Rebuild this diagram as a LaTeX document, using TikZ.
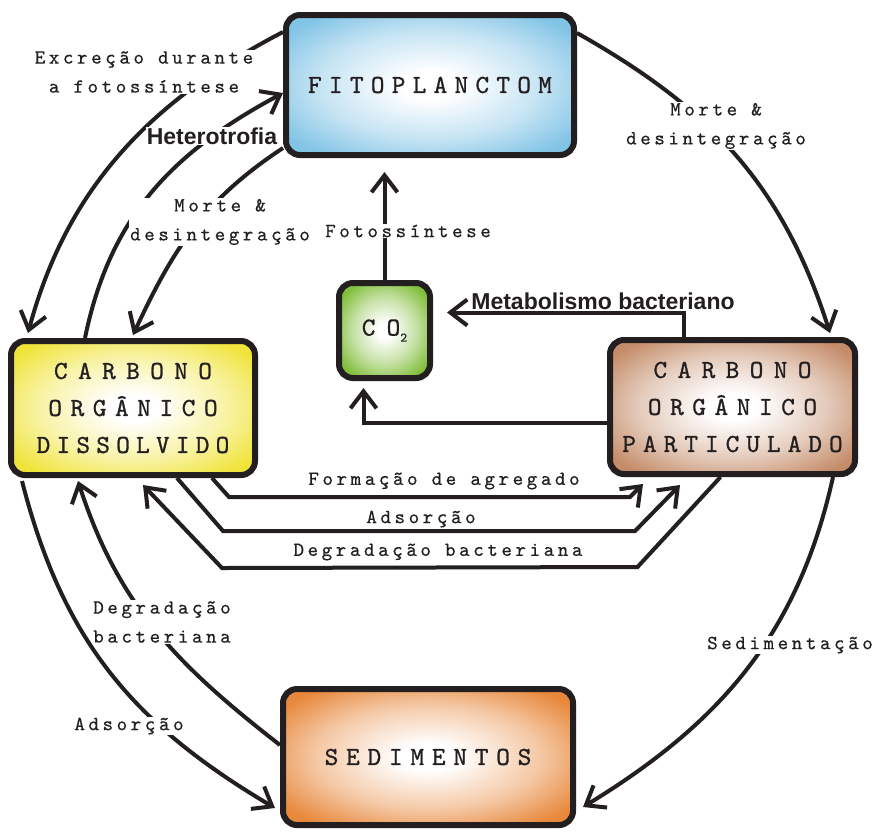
\documentclass[tikz,border=0pt]{standalone}
\usepackage{fontspec}
\usetikzlibrary{arrows.meta,calc}
\newfontfamily\lblmono{lmmono10-regular.otf}[LetterSpace=18,FakeBold=0.5]
\newfontfamily\boxmono{lmmono10-regular.otf}[LetterSpace=28,FakeBold=1]
\newfontfamily\sansbold{Liberation Sans Bold}
\definecolor{ink}{HTML}{231F20}
\definecolor{fitoC}{HTML}{82C4E6}
\definecolor{codC}{HTML}{F0E43A}
\definecolor{copC}{HTML}{C48C69}
\definecolor{coC}{HTML}{82BE3C}
\definecolor{sedC}{HTML}{E8883C}
\colorlet{fitoM}{fitoC!45!white}
\colorlet{codM}{codC!45!white}
\colorlet{copM}{copC!45!white}
\colorlet{coM}{coC!45!white}
\colorlet{sedM}{sedC!45!white}
\pgfdeclareradialshading{fitoshade}{\pgfpointorigin}{color(0bp)=(white); color(5bp)=(white); color(19bp)=(fitoM); color(31bp)=(fitoC); color(50bp)=(fitoC)}
\pgfdeclareradialshading{codshade}{\pgfpointorigin}{color(0bp)=(white); color(5bp)=(white); color(19bp)=(codM); color(31bp)=(codC); color(50bp)=(codC)}
\pgfdeclareradialshading{copshade}{\pgfpointorigin}{color(0bp)=(white); color(5bp)=(white); color(19bp)=(copM); color(31bp)=(copC); color(50bp)=(copC)}
\pgfdeclareradialshading{coshade}{\pgfpointorigin}{color(0bp)=(white); color(4bp)=(white); color(17bp)=(coM); color(29bp)=(coC); color(50bp)=(coC)}
\pgfdeclareradialshading{sedshade}{\pgfpointorigin}{color(0bp)=(white); color(5bp)=(white); color(19bp)=(sedM); color(31bp)=(sedC); color(50bp)=(sedC)}
\tikzset{
  box/.style={draw=ink, line width=6pt, rounded corners=14pt, shade,
    inner sep=0pt, align=center, text=ink, font=\boxmono\fontsize{26}{37}\selectfont},
  flow/.style={draw=ink, line width=4pt, -{Straight Barb[length=17pt,width=26pt]}},
  lbl/.style={font=\lblmono\fontsize{20}{29}\selectfont, text=ink, align=center, inner sep=1pt},
  hide/.style={fill=white},
  hdr/.style={font=\sansbold\fontsize{23}{26}\selectfont, text=ink, inner sep=0.5pt}
}
\begin{document}
\begin{tikzpicture}[x=1pt,y=-1pt]
\useasboundingbox (0,0) rectangle (882,831);
\fill[white] (0,0) rectangle (882,831);

% boxes
\node[box, shading=fitoshade, minimum width=288pt, minimum height=140pt] (fito) at (430,85) {FITOPLANCTOM};
\node[box, shading=coshade, minimum width=91pt, minimum height=95pt] (co2) at (384.5,330.5)
  {{\addfontfeature{LetterSpace=43}CO}\raisebox{-6pt}{\lblmono\fontsize{13}{13}\selectfont 2}};
\node[box, shading=codshade, minimum width=244pt, minimum height=134pt] (cod) at (133,408)
  {{\addfontfeature{LetterSpace=40}CARBONO}\\{\addfontfeature{LetterSpace=33}ORGÂNICO}\\{\addfontfeature{LetterSpace=24}DISSOLVIDO}};
\node[box, shading=copshade, minimum width=245pt, minimum height=134pt] (cop) at (732.5,407)
  {{\addfontfeature{LetterSpace=40}CARBONO}\\{\addfontfeature{LetterSpace=33}ORGÂNICO}\\{\addfontfeature{LetterSpace=27}PARTICULADO}};
\node[box, shading=sedshade, minimum width=290pt, minimum height=136pt] (sed) at (428,757)
  {{\addfontfeature{LetterSpace=30}SEDIMENTOS}};

% curved connectors
\draw[flow] ($(fito.west)+(0,-53)$) .. controls +(-133,69) and +(39,-145) .. ($(cod.north west)+(20,-5)$);
\draw[flow] ($(cod.north west)+(77,0)$) .. controls +(25,-122) and +(-110,59) .. ($(fito.west)+(0,8)$);
\draw[flow] ($(fito.west)+(0,63)$) .. controls +(-79,52) and +(40,-86) .. ($(cod.north west)+(125,-3)$);
\draw[flow] ($(fito.east)+(0,-52)$) .. controls +(135,76) and +(-47,-147) .. ($(cop.north east)+(-28,-4)$);
\draw[flow] ($(cod.south west)+(14,3)$) .. controls +(41,160) and +(-142,-84) .. ($(sed.west)+(-5,51)$);
\draw[flow] ($(sed.west)+(0,-12)$) .. controls +(-103,-80) and +(40,124) .. ($(cod.south west)+(70,3)$);
\draw[flow] ($(cop.south east)+(-25,0)$) .. controls +(-35,158) and +(136,-83) .. ($(sed.east)+(7,50)$);

% straight connectors
\draw[flow] (co2.north) -- ($(co2.north |- fito.south)+(0,14)$);
\draw[flow] ($(cop.north)+(-49,0)$) |- ($(co2.east)+(14,-18)$);
\draw[flow] ($(cop.west)+(0,16)$) -| ($(co2.south)+(-21,7)$);
\draw[flow] ($(cod.south)+(79,0)$) -- ++(17,19) -- ($(cop.south west)+(23,20)$) -- ($(cop.south west)+(36,7)$);
\draw[flow] ($(cod.south)+(44,0)$) -- ++(46,53) -- ($(cop.south west)+(28,54)$) -- ($(cop.south west)+(73,8)$);
\draw[flow] ($(cop.south)+(-12,0)$) -- ++(-83,90) -- ($(cod.south)+(89,90)$) -- ($(cod.south)+(10,7)$);

% labels
\node[lbl,hide] (lexc) at (144,72) {Excreção durante\\a fotossíntese};
\node[hdr,hide] (lhet) at (212,136) {Heterotrofia};
\node[lbl,hide] (lmo1) at (220,222) {Morte \&\\desintegração};
\node[lbl,hide] (lmo2) at (716,126) {Morte \&\\desintegração};
\node[lbl,hide] (lfot) at (408,231) {Fotossíntese};
\node[hdr] (lmet) at (603,301) {Metabolismo bacteriano};
\node[lbl] (lfor) at (444,481) {Formação de agregado};
\node[lbl] (lads) at (421,519) {Adsorção};
\node[lbl] (ldeg) at (438,552) {Degradação bacteriana};
\node[lbl,hide] (ldeg2) at (162,622) {Degradação\\bacteriana};
\node[lbl,hide] (lads2) at (129,726) {Adsorção};
\node[lbl,hide] (lsed) at (790,645) {Sedimentação};
\end{tikzpicture}
\end{document}
